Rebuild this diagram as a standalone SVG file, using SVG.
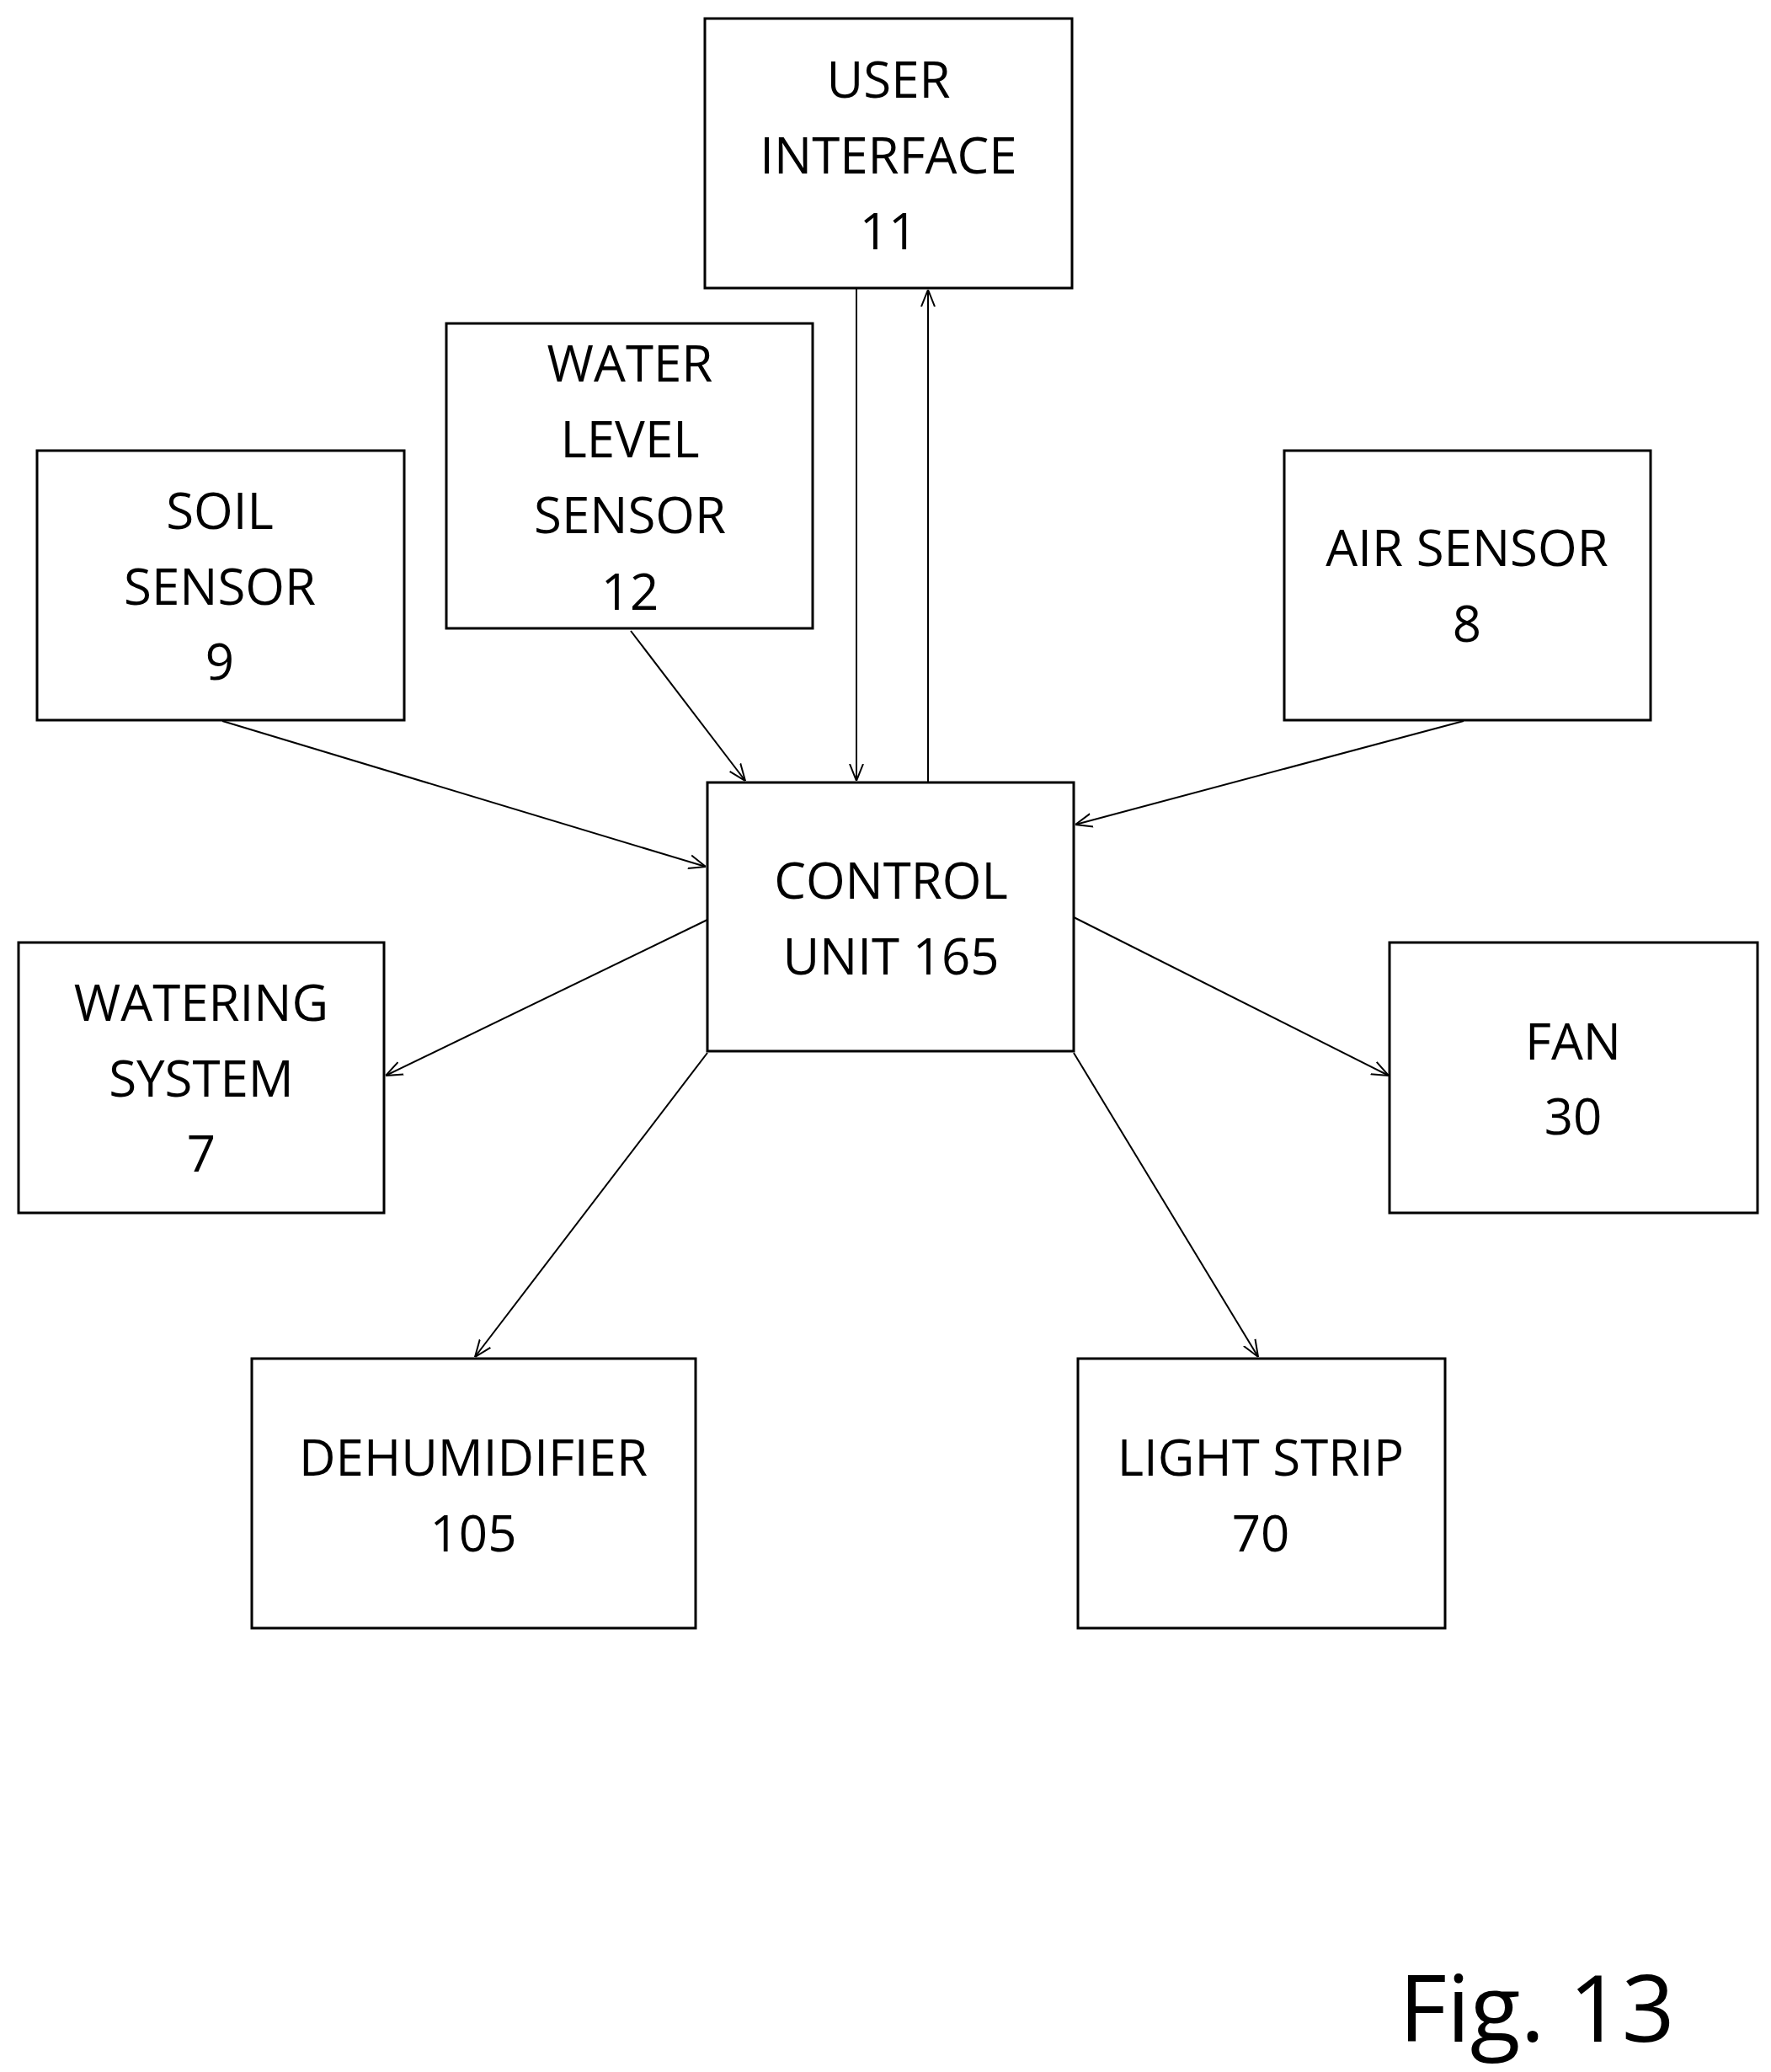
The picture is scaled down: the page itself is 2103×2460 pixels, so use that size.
<svg xmlns="http://www.w3.org/2000/svg" width="2103" height="2460" viewBox="0 0 2103 2460">
<style>
rect{fill:#fff;stroke:#000;stroke-width:3}
text{font-family:"Open Sans","Liberation Sans",sans-serif;font-size:60px;text-anchor:middle;fill:#000}
.c line{stroke:#000;stroke-width:2;marker-end:url(#a)}
</style>
<defs><marker id="a" viewBox="0 0 20 20" refX="20" refY="10" markerWidth="20" markerHeight="20" markerUnits="userSpaceOnUse" orient="auto"><path d="M0,2 L20,10 L0,18" fill="none" stroke="#000" stroke-width="2"/></marker></defs>
<rect x="0" y="0" width="2103" height="2460" style="stroke:none"/>
<g id="ui"><rect x="837" y="22" width="436" height="320"/><text x="1055" y="116">USER</text><text x="1055" y="206">INTERFACE</text><text x="1055" y="296">11</text></g>
<g id="water"><rect x="530" y="384" width="435" height="362"/><text x="748" y="453">WATER</text><text x="748" y="543">LEVEL</text><text x="748" y="633">SENSOR</text><text x="748" y="724">12</text></g>
<g id="soil"><rect x="44" y="535" width="436" height="320"/><text x="261" y="628">SOIL</text><text x="261" y="718">SENSOR</text><text x="261" y="807">9</text></g>
<g id="air"><rect x="1525" y="535" width="435" height="320"/><text x="1742" y="672">AIR SENSOR</text><text x="1742" y="762">8</text></g>
<g id="control"><rect x="840" y="929" width="435" height="319"/><text x="1058" y="1067">CONTROL</text><text x="1058" y="1157">UNIT 165</text></g>
<g id="watering"><rect x="22" y="1119" width="434" height="321"/><text x="239" y="1212">WATERING</text><text x="239" y="1302">SYSTEM</text><text x="239" y="1391">7</text></g>
<g id="fan"><rect x="1650" y="1119" width="437" height="321"/><text x="1868" y="1258">FAN</text><text x="1868" y="1347">30</text></g>
<g id="dehum"><rect x="299" y="1613" width="527" height="320"/><text x="562" y="1752">DEHUMIDIFIER</text><text x="562" y="1842">105</text></g>
<g id="light"><rect x="1280" y="1613" width="436" height="320"/><text x="1497" y="1752">LIGHT STRIP</text><text x="1497" y="1842">70</text></g>
<g class="c">
<line x1="1017" y1="342" x2="1017" y2="927"/>
<line x1="1102" y1="929" x2="1102" y2="344"/>
<line x1="749" y1="749" x2="885" y2="927"/>
<line x1="264" y1="856" x2="838" y2="1029"/>
<line x1="1738" y1="856" x2="1277" y2="979"/>
<line x1="840" y1="1092" x2="458" y2="1277"/>
<line x1="1275" y1="1089" x2="1649" y2="1277"/>
<line x1="840" y1="1250" x2="564" y2="1611"/>
<line x1="1275" y1="1250" x2="1494" y2="1611"/>
</g>
<text x="1825" y="2424" style="font-size:110px">Fig. 13</text>
</svg>
